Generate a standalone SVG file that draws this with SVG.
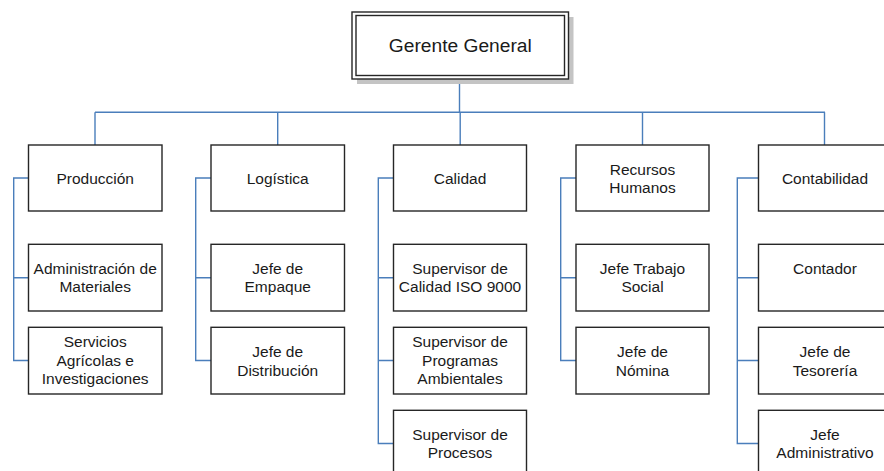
<svg xmlns="http://www.w3.org/2000/svg" width="884" height="471" viewBox="0 0 884 471">
<style>
.box{fill:#ffffff;stroke:#262626;stroke-width:1.4}
.con{fill:none;stroke:#4a7ebb;stroke-width:1.4}
text{font-family:"Liberation Sans",Arial,sans-serif;font-size:15.5px;fill:#1a1a1a;text-anchor:middle}
.big{font-size:19.2px}
</style>
<rect width="884" height="471" fill="#ffffff"/>
<g id="connectors">
<path class="con" d="M459.5,79V112.3M95,112.3H825M95,112.3V145M277.7,112.3V145M460.2,112.3V145M642.5,112.3V145M824.5,112.3V145"/>
<path class="con" d="M28.5,178H13.7V360.5H28.5M13.7,277.7H28.5"/>
<path class="con" d="M211,178H195.7V360.5H211M195.7,277.7H211"/>
<path class="con" d="M393.5,178H378.3V443.5H393.5M378.3,277.7H393.5M378.3,360.5H393.5"/>
<path class="con" d="M576,178H560.7V360.5H576M560.7,277.7H576"/>
<path class="con" d="M758.5,178H737.3V443.5H758.5M737.3,277.7H758.5M737.3,360.5H758.5"/>
</g>
<g id="gerente">
<rect x="357" y="17" width="216.5" height="67" fill="#c4c4c4"/>
<rect class="box" x="352" y="12" width="216.5" height="67"/>
<rect class="box" x="356" y="15.5" width="208.5" height="60"/>
<text class="big" x="460.3" y="52">Gerente General</text>
</g>
<g id="produccion"><rect class="box" x="28.5" y="145" width="133.5" height="66"/><text x="95.2" y="183.5">Producción</text></g>
<g id="logistica"><rect class="box" x="211" y="145" width="133.5" height="66"/><text x="277.7" y="183.5">Logística</text></g>
<g id="calidad"><rect class="box" x="393.5" y="145" width="133" height="66"/><text x="460" y="183.5">Calidad</text></g>
<g id="rrhh"><rect class="box" x="576" y="145" width="133" height="66"/><text x="642.5" y="174.8">Recursos</text><text x="642.5" y="193">Humanos</text></g>
<g id="contabilidad"><rect class="box" x="758.5" y="145" width="133" height="66"/><text x="825" y="183.5">Contabilidad</text></g>

<g id="adm-materiales"><rect class="box" x="28.5" y="244.3" width="133.5" height="66.7"/><text x="95.2" y="273.5">Administración de</text><text x="95.2" y="292">Materiales</text></g>
<g id="servicios"><rect class="box" x="28.5" y="327.3" width="133.5" height="66.7"/><text x="95.2" y="347">Servicios</text><text x="95.2" y="365.5">Agrícolas e</text><text x="95.2" y="383.8">Investigaciones</text></g>

<g id="jefe-empaque"><rect class="box" x="211" y="244.3" width="133.5" height="66.7"/><text x="277.7" y="273.5">Jefe de</text><text x="277.7" y="292">Empaque</text></g>
<g id="jefe-distribucion"><rect class="box" x="211" y="327.3" width="133.5" height="66.7"/><text x="277.7" y="357">Jefe de</text><text x="277.7" y="375.5">Distribución</text></g>

<g id="sup-iso"><rect class="box" x="393.5" y="244.3" width="133" height="66.7"/><text x="460" y="273.5">Supervisor de</text><text x="460" y="292">Calidad ISO 9000</text></g>
<g id="sup-ambientales"><rect class="box" x="393.5" y="327.3" width="133" height="66.7"/><text x="460" y="347">Supervisor de</text><text x="460" y="365.5">Programas</text><text x="460" y="383.8">Ambientales</text></g>
<g id="sup-procesos"><rect class="box" x="393.5" y="410.3" width="133" height="66.7"/><text x="460" y="439.5">Supervisor de</text><text x="460" y="457.8">Procesos</text></g>

<g id="jefe-trabajo-social"><rect class="box" x="576" y="244.3" width="133" height="66.7"/><text x="642.5" y="273.5">Jefe Trabajo</text><text x="642.5" y="292">Social</text></g>
<g id="jefe-nomina"><rect class="box" x="576" y="327.3" width="133" height="66.7"/><text x="642.5" y="357">Jefe de</text><text x="642.5" y="375.5">Nómina</text></g>

<g id="contador"><rect class="box" x="758.5" y="244.3" width="133" height="66.7"/><text x="825" y="273.8">Contador</text></g>
<g id="jefe-tesoreria"><rect class="box" x="758.5" y="327.3" width="133" height="66.7"/><text x="825" y="357">Jefe de</text><text x="825" y="375.5">Tesorería</text></g>
<g id="jefe-administrativo"><rect class="box" x="758.5" y="410.3" width="133" height="66.7"/><text x="825" y="439.5">Jefe</text><text x="825" y="457.8">Administrativo</text></g>
</svg>
